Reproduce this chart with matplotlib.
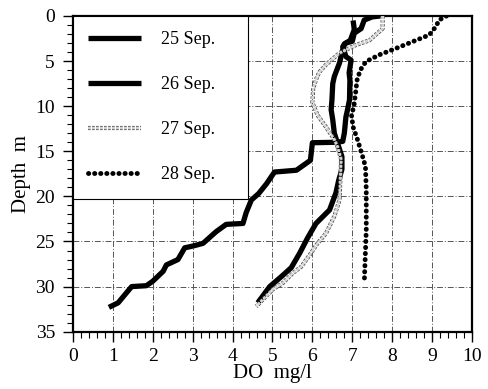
import matplotlib
matplotlib.use("Agg")
import matplotlib.pyplot as plt
import matplotlib.patheffects as pe
from matplotlib.ticker import MultipleLocator

# ---- data (depth in m, DO in mg/l) ----
depth_25 = [0.0, 0.1, 0.45, 1.4, 1.9, 2.8, 3.0, 3.4, 4.5, 4.9, 6.3, 7.1, 9.3, 10.4, 11.2, 13.0,
            13.9, 14.0, 14.05, 16.0, 17.1, 17.3, 18.6, 19.7, 20.4, 21.8, 23.0, 23.1, 23.9, 25.2,
            25.5, 25.7, 27.0, 27.6, 28.3, 29.4, 29.9, 30.0, 31.8, 32.3]
do_25 = [7.7, 7.5, 7.3, 7.22, 7.05, 7.0, 6.84, 6.76, 6.84, 6.97, 6.92, 6.94, 6.93, 6.88, 6.84, 6.8,
         6.76, 6.6, 6.0, 5.95, 5.6, 5.05, 4.85, 4.65, 4.47, 4.34, 4.26, 3.84, 3.59, 3.26,
         3.01, 2.8, 2.63, 2.34, 2.26, 2.0, 1.84, 1.47, 1.13, 0.9]

depth_26 = [0.5, 1.5, 2.7, 3.1, 4.1, 5.2, 6.7, 7.5, 9.3, 10.4, 11.5, 13.0, 14.1, 15.6, 17.0,
            18.2, 19.6, 21.5, 23.0, 24.6, 26.3, 27.9, 28.9, 30.0, 31.8]
do_26 = [7.02, 7.05, 6.95, 6.8, 6.74, 6.68, 6.55, 6.51, 6.49, 6.47, 6.51, 6.55, 6.63, 6.74, 6.74,
         6.66, 6.59, 6.43, 6.09, 5.88, 5.68, 5.47, 5.22, 4.93, 4.63]

depth_27 = [0.0, 1.4, 2.7, 3.2, 4.1, 5.4, 6.2, 6.7, 8.0, 9.6, 11.0, 12.3, 13.7, 14.5, 15.9,
            18.2, 20.4, 22.2, 24.1, 25.2, 26.5, 27.8, 28.5, 29.6, 30.3, 32.2]
do_27 = [7.76, 7.76, 7.43, 7.1, 6.68, 6.34, 6.18, 6.12, 6.02, 6.0, 6.13, 6.34, 6.55, 6.63, 6.72,
         6.7, 6.68, 6.55, 6.34, 6.13, 5.93, 5.72, 5.51, 5.26, 5.01, 4.59]

depth_28 = [0.0, 0.44, 1.2, 2.1, 2.85, 3.6, 4.3, 5.06, 6.0, 7.1, 8.6, 10.0, 11.0, 12.3, 13.7,
            15.6, 16.7, 19.3, 23.7, 29.6]
do_28 = [9.36, 9.18, 9.09, 8.93, 8.51, 8.09, 7.68, 7.34, 7.2, 7.12, 7.08, 7.04, 6.98, 7.02, 7.13,
         7.26, 7.33, 7.35, 7.35, 7.3]

labels = ["25 Sep.", "26 Sep.", "27 Sep.", "28 Sep."]
x_ticks = [0, 1, 2, 3, 4, 5, 6, 7, 8, 9, 10]
y_ticks = [0, 5, 10, 15, 20, 25, 30, 35]

plt.rcParams['font.family'] = ['Liberation Serif', 'DejaVu Serif']

fig = plt.figure(figsize=(4.88, 3.89), dpi=100)
ax = fig.add_axes([0.1496, 0.1473, 0.8176, 0.8116])

l25, = ax.plot(do_25, depth_25, color='black', lw=3.8, solid_joinstyle='round',
               solid_capstyle='butt', zorder=4)
l26, = ax.plot(do_26, depth_26, color='black', lw=3.8, solid_joinstyle='round',
               solid_capstyle='butt', zorder=4)
l27, = ax.plot(do_27, depth_27, color='#d0d0d0', lw=1.6, zorder=5,
               linestyle=(0, (1.2, 0.6)),
               path_effects=[pe.Stroke(linewidth=3.0, foreground='#555555'),
                             pe.Stroke(linewidth=1.6, foreground='white'),
                             pe.Normal()])
l28, = ax.plot(do_28, depth_28, color='black', lw=3.5, linestyle=(0, (0.05, 1.2)),
               dash_capstyle='round', zorder=4)

ax.set_xlim(0, 10)
ax.set_ylim(35, 0)
ax.set_xticks(x_ticks)
ax.set_yticks(y_ticks)
ax.xaxis.set_minor_locator(MultipleLocator(0.2))
ax.yaxis.set_minor_locator(MultipleLocator(1))
ax.tick_params(which='major', direction='out', length=7, width=1.0, labelsize=14,
               top=False, right=False)
ax.tick_params(which='minor', direction='out', length=4, width=0.8, top=False, right=False)
ax.tick_params(axis='x', which='major', pad=5)
ax.tick_params(axis='y', which='major', pad=6)

for s in ax.spines.values():
    s.set_linewidth(1.6)
    s.set_color('black')

ax.grid(True, which='major', color='#555555', lw=0.7, linestyle=(0, (6, 2, 1, 2)))
ax.set_axisbelow(True)

ax.set_xlabel("DO  mg/l", fontsize=15, labelpad=-1)
ax.set_ylabel("Depth  m", fontsize=15, labelpad=3)

leg = ax.legend([l25, l26, l27, l28], labels, loc='upper left',
                bbox_to_anchor=(0, 0.44, 0.4375, 0.56), mode='expand',
                borderaxespad=0, fontsize=13, frameon=True, fancybox=False,
                handlelength=2.9, handletextpad=1.1, labelspacing=1.55, borderpad=0.85)
leg.get_frame().set_edgecolor('black')
leg.get_frame().set_linewidth(0.8)
leg.get_frame().set_alpha(1)
leg.set_zorder(10)

fig.savefig("out.png", dpi=100)
